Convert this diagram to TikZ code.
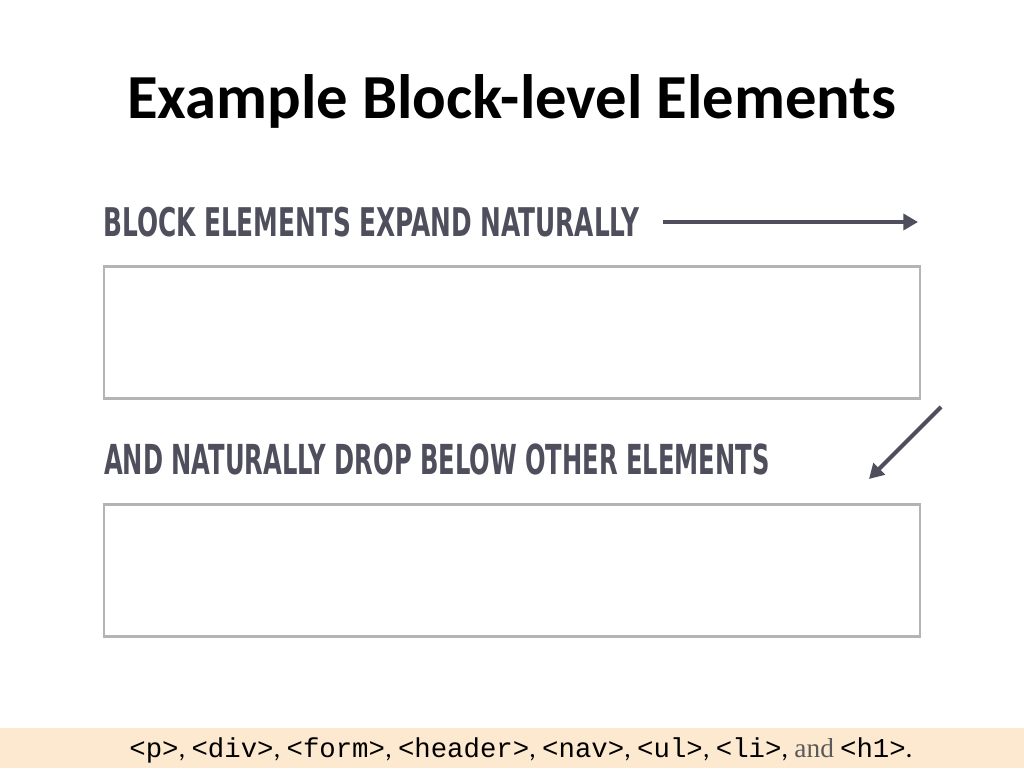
\documentclass[tikz,border=0pt]{standalone}
\usepackage{fontspec}
\setmainfont{Carlito}
\newfontfamily\condfont{DejaVu Sans Condensed}
\newfontfamily\codefont{Liberation Mono}
\newfontfamily\serifont{Liberation Serif}
\usetikzlibrary{arrows.meta}
\definecolor{inkgray}{HTML}{4E4E5C}
\definecolor{boxgray}{HTML}{B4B4B4}
\definecolor{peach}{HTML}{FDE9D0}
\definecolor{andgray}{HTML}{5A5A5A}
\tikzset{
  blockbox/.style={draw=boxgray, line width=2.2pt},
  caption/.style={anchor=south west, inner sep=0pt, text=inkgray},
  bigarrow/.style={draw=inkgray, line width=3pt, -{Triangle[length=11pt,width=12pt]}}
}
\newcommand{\cd}[1]{{\codefont #1}}
\begin{document}
\begin{tikzpicture}[x=0.75pt,y=-0.75pt]
\useasboundingbox (0,0) rectangle (1024,768);
\fill[white] (0,0) rectangle (1024,768);
% title
\node[inner sep=0pt, anchor=base] (title) at (512,118) {\fontsize{47}{52}\selectfont\bfseries Example Block-level Elements};
% captions
\node[caption] (cap1) at (103,237) {\resizebox{402pt}{22pt}{\condfont\bfseries BLOCK ELEMENTS EXPAND NATURALLY}};
\node[caption] (cap2) at (104,475) {\resizebox{499pt}{23pt}{\condfont\bfseries AND NATURALLY DROP BELOW OTHER ELEMENTS}};
% arrows
\coordinate (a1s) at (663,222);
\coordinate (a1e) at (918,222);
\draw[bigarrow] (a1s) -- (a1e);
\coordinate (a2s) at (941,407);
\coordinate (a2e) at (869,479);
\draw[bigarrow] (a2s) -- (a2e);
% boxes
\node[blockbox, minimum width=612pt, minimum height=99pt, inner sep=0pt] (box1) at (512,332.5) {};
\node[blockbox, minimum width=612pt, minimum height=99pt, inner sep=0pt] (box2) at (512,570.5) {};
% bottom bar
\fill[peach] (0,728) rectangle (1024,768);
\node[inner sep=0pt, anchor=base] (foot) at (521,757) {\fontsize{20.5}{22}\selectfont\cd{<p>}, \cd{<div>}, \cd{<form>}, \cd{<header>}, \cd{<nav>}, \cd{<ul>}, \cd{<li>}, {\serifont\color{andgray}and} \cd{<h1>}.};
\end{tikzpicture}
\end{document}
